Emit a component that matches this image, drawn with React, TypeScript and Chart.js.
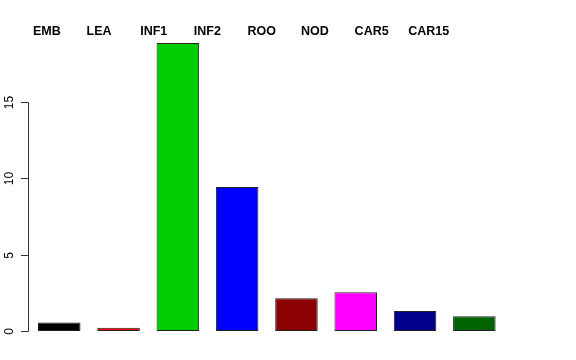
import React, { useEffect, useRef } from "react";
import { Chart, registerables } from "chart.js";

Chart.register(...registerables);

const categories = ["EMB", "LEA", "INF1", "INF2", "ROO", "NOD", "CAR5", "CAR15"];
const values = [0.55, 0.22, 18.86, 9.43, 2.15, 2.53, 1.31, 0.96];
const barColors = ["#000000", "#FF0000", "#00CD00", "#0000FF", "#8B0000", "#FF00FF", "#00008B", "#006400"];
const yTicks = [0, 5, 10, 15];

const overlay = {
  id: "overlay",
  afterDraw(chart: any) {
    const ctx = chart.ctx;
    const y = chart.scales.y;
    ctx.save();
    // y axis line
    ctx.strokeStyle = "#333";
    ctx.lineWidth = 1;
    const x0 = 28.5;
    ctx.beginPath();
    ctx.moveTo(x0, Math.round(y.getPixelForValue(yTicks[0])) + 0.5);
    ctx.lineTo(x0, Math.round(y.getPixelForValue(yTicks[yTicks.length - 1])) + 0.5);
    ctx.stroke();
    ctx.fillStyle = "#000";
    ctx.font = "12px 'Liberation Sans', Arial, sans-serif";
    ctx.textAlign = "center";
    ctx.textBaseline = "alphabetic";
    for (const t of yTicks) {
      const py = Math.round(y.getPixelForValue(t)) + 0.5;
      ctx.beginPath();
      ctx.moveTo(21, py);
      ctx.lineTo(x0, py);
      ctx.stroke();
      ctx.save();
      ctx.translate(13, py);
      ctx.rotate(-Math.PI / 2);
      ctx.fillText(String(t), 0, 0);
      ctx.restore();
    }
    // top labels (legend-style, left aligned)
    ctx.font = "bold 12.5px 'Liberation Sans', Arial, sans-serif";
    ctx.textAlign = "left";
    categories.forEach((c, i) => {
      ctx.fillText(c, 33 + 53.6 * i, 34.5);
    });
    ctx.restore();
  },
};

export default function App() {
  const ref = useRef<HTMLCanvasElement>(null);
  useEffect(() => {
    document.body.style.margin = "0";
    const chart = new Chart(ref.current!, {
      type: "bar",
      data: {
        labels: categories,
        datasets: [
          {
            data: values,
            backgroundColor: barColors,
            borderColor: "#222",
            borderWidth: 1,
            borderSkipped: false,
            barPercentage: 0.717,
            categoryPercentage: 1,
          },
        ],
      },
      options: {
        responsive: false,
        animation: false,
        devicePixelRatio: 1,
        layout: { padding: { left: 29.6, right: 72, top: 31.5, bottom: 17.5 } },
        plugins: { legend: { display: false }, tooltip: { enabled: false } },
        scales: {
          x: { display: false },
          y: { display: false, min: -0.754, max: 19.61 },
        },
      },
      plugins: [overlay],
    });
    return () => chart.destroy();
  }, []);
  return (
    <div style={{ width: 576, height: 360, background: "#fff" }}>
      <canvas ref={ref} width={576} height={360} />
    </div>
  );
}
